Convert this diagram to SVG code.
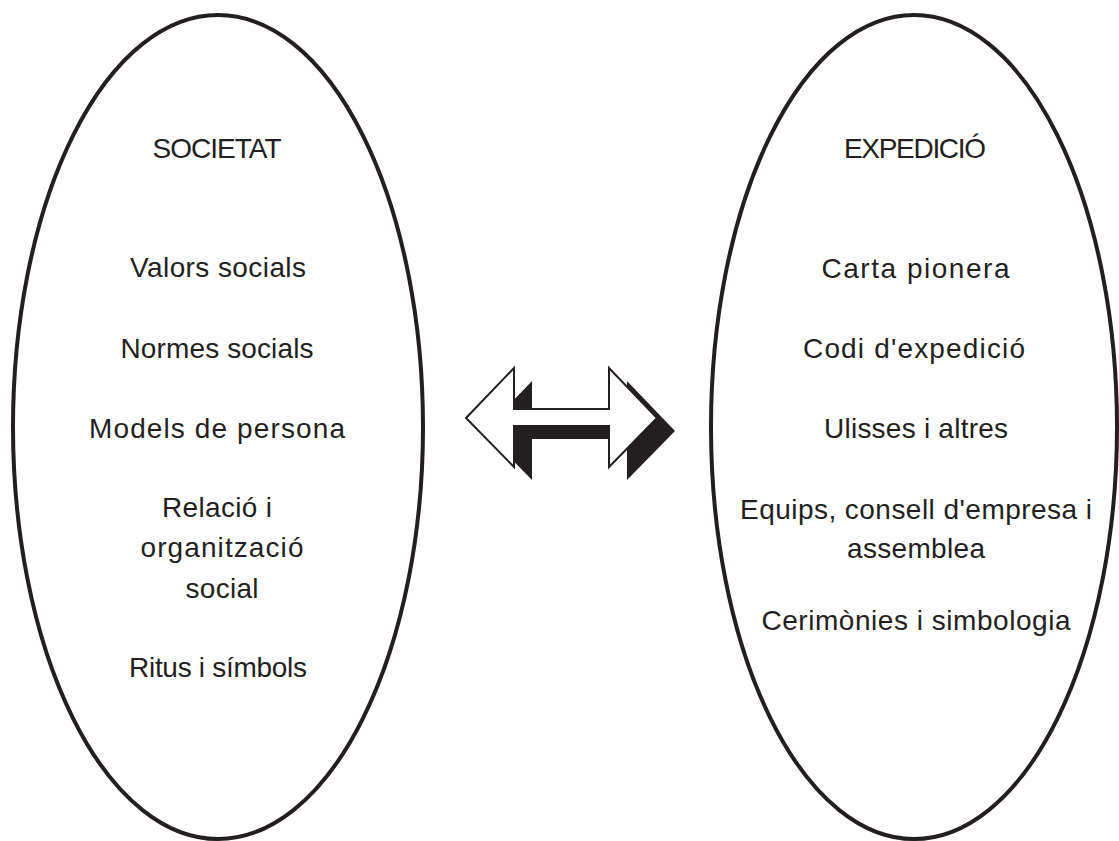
<svg xmlns="http://www.w3.org/2000/svg" width="1119" height="841" viewBox="0 0 1119 841">
  <style>
    .oval { fill: #ffffff; stroke: #231f20; stroke-width: 4; }
    .lbl { font-family: "Liberation Sans", Arial, sans-serif; font-size: 28px; fill: #231f20; text-anchor: middle; }
    .shadow { fill: #231f20; }
    .front { fill: #ffffff; stroke: #231f20; stroke-width: 2; stroke-linejoin: miter; }
  </style>
  <defs>
    <polygon id="arrowShape" points="466,418 514,368 514,409 609,409 609,368 657,418 609,467 609,426 514,426 514,467"/>
  </defs>
  <rect x="0" y="0" width="1119" height="841" fill="#ffffff"/>

  <g id="societat">
    <ellipse class="oval" cx="218" cy="427" rx="205" ry="412"/>
    <text class="lbl" x="217" y="158" textLength="129" lengthAdjust="spacing">SOCIETAT</text>
    <text class="lbl" x="218" y="277" textLength="176" lengthAdjust="spacing">Valors socials</text>
    <text class="lbl" x="217" y="358" textLength="193" lengthAdjust="spacing">Normes socials</text>
    <text class="lbl" x="217" y="438" textLength="256" lengthAdjust="spacing">Models de persona</text>
    <text class="lbl" x="217" y="517" textLength="110" lengthAdjust="spacing">Relació i</text>
    <text class="lbl" x="222" y="557" textLength="163" lengthAdjust="spacing">organització</text>
    <text class="lbl" x="222" y="598" textLength="73" lengthAdjust="spacing">social</text>
    <text class="lbl" x="218" y="677" textLength="178" lengthAdjust="spacing">Ritus i símbols</text>
  </g>

  <g id="expedicio">
    <ellipse class="oval" cx="914" cy="427" rx="203" ry="412"/>
    <text class="lbl" x="915" y="158" textLength="142" lengthAdjust="spacing">EXPEDICIÓ</text>
    <text class="lbl" x="915.5" y="278" textLength="188" lengthAdjust="spacing">Carta pionera</text>
    <text class="lbl" x="914" y="358" textLength="222" lengthAdjust="spacing">Codi d'expedició</text>
    <text class="lbl" x="916" y="438" textLength="184" lengthAdjust="spacing">Ulisses i altres</text>
    <text class="lbl" x="916" y="519" textLength="352" lengthAdjust="spacing">Equips, consell d'empresa i</text>
    <text class="lbl" x="916" y="558" textLength="138" lengthAdjust="spacing">assemblea</text>
    <text class="lbl" x="916" y="630" textLength="309" lengthAdjust="spacing">Cerimònies i simbologia</text>
  </g>

  <g id="connectors">
    <g id="double-arrow">
      <use href="#arrowShape" class="shadow" transform="translate(18,13)"/>
      <use href="#arrowShape" class="front"/>
    </g>
  </g>
</svg>
